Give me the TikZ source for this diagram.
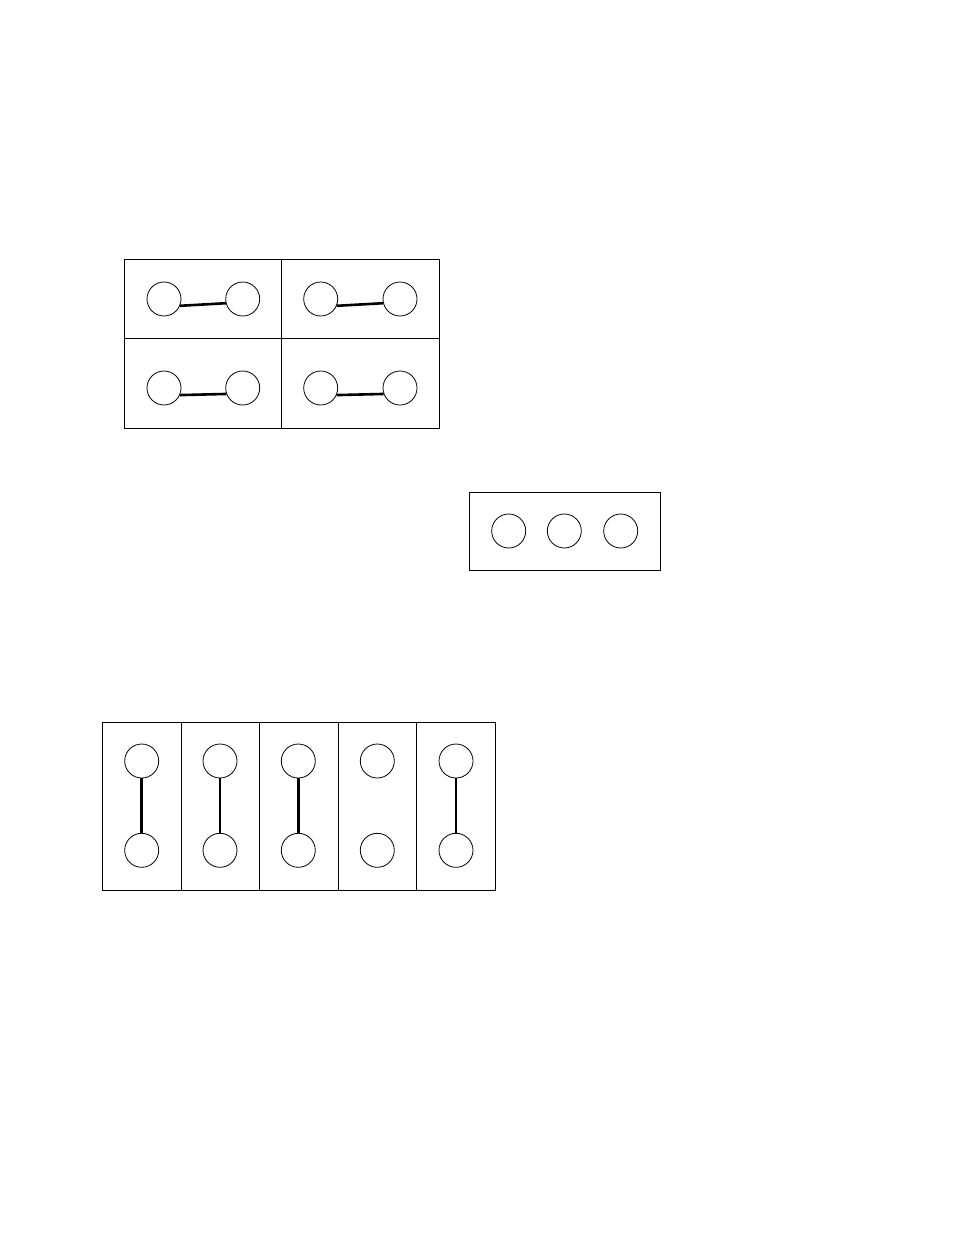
\documentclass[tikz,border=0pt]{standalone}
\begin{document}
\begin{tikzpicture}[x=1pt,y=-1pt,
    ball/.style={draw,circle,minimum size=34pt,inner sep=0pt,line width=0.8pt},
    bond/.style={line width=2.6pt},
    frame/.style={line width=0.9pt}]
                    \useasboundingbox (0,0) rectangle (954,1235);

                    \draw[frame] (124.5,259.5) rectangle (439,428);
                    \draw[frame] (281.7,259.5) -- (281.7,428);
                    \draw[frame] (124.5,338) -- (439,338);

                    \node[ball] (aL) at (164,299) {};
                    \node[ball] (aR) at (242.7,299) {};
                    \node[ball] (bL) at (320.7,299) {};
                    \node[ball] (bR) at (400,299) {};
                    \node[ball] (cL) at (164,388) {};
                    \node[ball] (cR) at (242.7,388) {};
                    \node[ball] (dL) at (320.7,388) {};
                    \node[ball] (dR) at (400,388) {};
                    \draw[bond] (aL.-23) -- (aR.194);
                    \draw[bond] (bL.-23) -- (bR.194);
                    \draw[bond] (cL.-24) -- (cR.200);
                    \draw[bond] (dL.-24) -- (dR.200);

                    \draw[frame] (469,492) rectangle (660,570.7);
                    \node[ball] (m1) at (508.7,531) {};
                    \node[ball] (m2) at (564.3,531) {};
                    \node[ball] (m3) at (620.7,531) {};

                    \draw[frame] (102.3,722.3) rectangle (495,890);
                    \draw[frame] (181,722.3) -- (181,890);
                    \draw[frame] (259.3,722.3) -- (259.3,890);
                    \draw[frame] (338,722.3) -- (338,890);
                    \draw[frame] (416.7,722.3) -- (416.7,890);

                    \node[ball] (u1) at (141.7,761) {};
                    \node[ball] (u2) at (220,761) {};
                    \node[ball] (u3) at (298.3,761) {};
                    \node[ball] (u4) at (377.3,761) {};
                    \node[ball] (u5) at (456,761) {};
                    \node[ball] (v1) at (141.7,850.3) {};
                    \node[ball] (v2) at (220,850.3) {};
                    \node[ball] (v3) at (298.3,850.3) {};
                    \node[ball] (v4) at (377.3,850.3) {};
                    \node[ball] (v5) at (456,850.3) {};
                    \draw[bond] (u1) -- (v1);
                    \draw[bond] (u2) -- (v2);
                    \draw[bond] (u3) -- (v3);
                    \draw[bond] (u5) -- (v5);

\end{tikzpicture}
\end{document}
